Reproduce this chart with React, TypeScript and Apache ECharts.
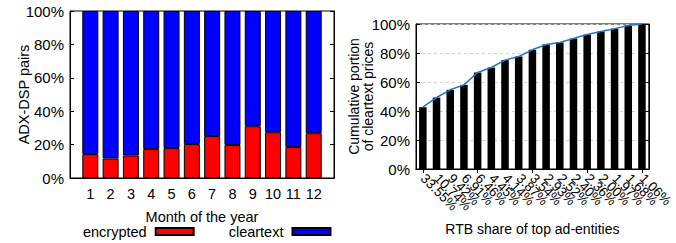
import React, { useEffect, useRef } from "react";
import * as echarts from "echarts";

const months = ["1", "2", "3", "4", "5", "6", "7", "8", "9", "10", "11", "12"];
const encrypted = [14.3, 11.7, 13.5, 17.3, 17.9, 20.3, 25.1, 19.7, 31.0, 27.4, 18.5, 26.8];
const cleartext = [85.7, 88.3, 86.5, 82.7, 82.1, 79.7, 74.9, 80.3, 69.0, 72.6, 81.5, 73.2];
const rtbShares = [
  "33.55%", "10.74%", "9.42%", "6.91%", "6.46%", "4.45%", "4.14%", "3.87%", "3.54%",
  "2.93%", "2.52%", "2.40%", "2.36%", "2.00%", "1.97%", "1.68%", "1.06%",
];
const cumulative = [42.6, 49.3, 54.6, 58.0, 66.6, 70.0, 75.1, 77.6, 82.2, 85.9, 87.3, 90.0, 92.8, 94.9, 96.8, 99.0, 100];
const pctTicks = [0, 20, 40, 60, 80, 100];

const FONT = "'Liberation Sans', Arial, Helvetica, sans-serif";

export default function App() {
  const ref = useRef<HTMLDivElement>(null);
  useEffect(() => {
    if (!ref.current) return;
    const chart = echarts.init(ref.current, undefined, { renderer: "svg" });
    const txt = { color: "#000", fontSize: 14.5, fontFamily: FONT };
    const pctAxis = (gridIndex: number, position: string, showLabels: boolean, extra: any = {}) => ({
      type: "value",
      gridIndex,
      position,
      min: pctTicks[0],
      max: pctTicks[pctTicks.length - 1],
      interval: 20,
      axisLine: { show: true, lineStyle: { color: "#000", width: 1 } },
      axisTick: { show: true, inside: true, length: 4, lineStyle: { color: "#000" } },
      axisLabel: { show: showLabels, ...txt, fontSize: 15, margin: 6, formatter: (v: number) => `${v}%` },
      splitLine: { show: false },
      nameMoveOverlap: false,
      ...extra,
    });
    // padded categories: an empty slot at each end of the month axis
    const monthCats = ["", ...months, ""];
    const pad = (arr: number[]) => [null, ...arr, null];
    chart.setOption({
      animation: false,
      textStyle: { fontFamily: FONT },
      grid: [
        { left: 70, right: 342, top: 11, bottom: 65, show: true, borderColor: "#000", borderWidth: 1, containLabel: false },
        { left: 416, right: 24, top: 24, bottom: 74, show: true, borderColor: "#000", borderWidth: 1, containLabel: false },
      ],
      legend: {
        data: ["encrypted", "cleartext"],
        left: 83,
        top: 224,
        align: "right",
        icon: "rect",
        itemWidth: 38,
        itemHeight: 7,
        itemGap: 34,
        padding: 0,
        textStyle: { ...txt, padding: [0, 4, 0, 0] },
      },
      xAxis: [
        {
          type: "category",
          gridIndex: 0,
          data: monthCats,
          boundaryGap: false,
          axisLine: { show: true, lineStyle: { color: "#000" } },
          axisTick: { show: false },
          splitLine: { show: false },
          axisLabel: { ...txt, margin: 8, interval: 0 },
          name: "Month of the year",
          nameLocation: "middle",
          nameGap: 31,
          nameMoveOverlap: false,
          nameTextStyle: { ...txt },
        },
        {
          type: "category",
          gridIndex: 1,
          data: rtbShares,
          position: "bottom",
          axisLine: { show: true, lineStyle: { color: "#000" } },
          axisTick: { show: true, inside: true, alignWithLabel: true, length: 4, lineStyle: { color: "#000" } },
          axisLabel: { ...txt, fontSize: 13.5, rotate: -45, margin: 7, interval: 0 },
          name: "RTB share of top ad-entities",
          nameLocation: "middle",
          nameGap: 53,
          nameMoveOverlap: false,
          nameTextStyle: { ...txt, fontSize: 14 },
        },
        {
          type: "category",
          gridIndex: 1,
          data: rtbShares,
          position: "top",
          axisLine: { show: true, lineStyle: { color: "#000" } },
          axisTick: { show: true, inside: true, alignWithLabel: true, length: 4, lineStyle: { color: "#000" } },
          axisLabel: { show: false },
        },
      ],
      yAxis: [
        pctAxis(0, "left", true, {
          name: "ADX-DSP pairs",
          nameLocation: "middle",
          nameGap: 39,
          nameTextStyle: { ...txt },
        }),
        pctAxis(0, "right", false),
        pctAxis(1, "left", true, {
          name: "Cumulative portion\nof cleartext prices",
          nameLocation: "middle",
          nameGap: 41,
          nameTextStyle: { ...txt, fontSize: 14, lineHeight: 14 },
          splitLine: { show: true, lineStyle: { color: "#d0d0d0", type: [3, 3], width: 1 } },
        }),
        pctAxis(1, "right", false),
      ],
      series: [
        {
          name: "encrypted",
          type: "bar",
          xAxisIndex: 0,
          yAxisIndex: 0,
          stack: "pairs",
          barWidth: 16,
          data: pad(encrypted),
          itemStyle: { color: "#ff0000", borderColor: "#000", borderWidth: 1 },
        },
        {
          name: "cleartext",
          type: "bar",
          xAxisIndex: 0,
          yAxisIndex: 0,
          stack: "pairs",
          barWidth: 16,
          data: pad(cleartext),
          itemStyle: { color: "#0000ff", borderColor: "#000", borderWidth: 1 },
        },
        {
          name: "cumulative",
          type: "bar",
          xAxisIndex: 1,
          yAxisIndex: 2,
          barWidth: "55%",
          data: cumulative,
          itemStyle: { color: "#000" },
        },
        {
          name: "cumulative line",
          type: "line",
          xAxisIndex: 1,
          yAxisIndex: 2,
          data: cumulative,
          showSymbol: false,
          lineStyle: { color: "#1f78c1", width: 1.5 },
          itemStyle: { color: "#1f78c1" },
          z: 5,
        },
      ],
    });
    return () => chart.dispose();
  }, []);
  return <div ref={ref} style={{ position: "absolute", left: 0, top: 0, width: 676, height: 243 }} />;
}
